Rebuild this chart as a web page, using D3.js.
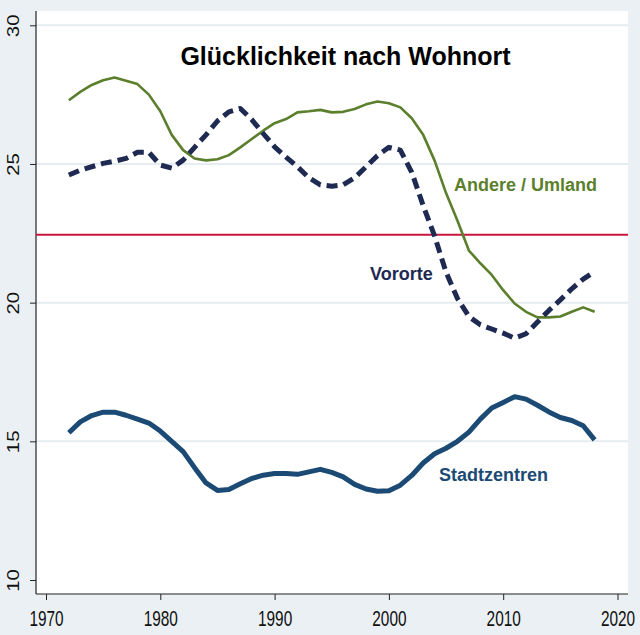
<!DOCTYPE html>
<html>
<head>
<meta charset="utf-8">
<script src="https://cdn.jsdelivr.net/npm/d3@7/dist/d3.min.js"></script>
<style>
  html, body { margin: 0; padding: 0; background: #eaf0f3; }
  svg { display: block; }
</style>
</head>
<body>
<svg id="chart" width="640" height="635"></svg>
<script>
const years = d3.range(1972, 2019);
const andereUmland = [27.3, 27.6, 27.85, 28.02, 28.12, 28.0, 27.88, 27.5, 26.9, 26.05,
  25.5, 25.2, 25.13, 25.17, 25.32, 25.6, 25.9, 26.2, 26.47, 26.62,
  26.86, 26.9, 26.95, 26.86, 26.88, 26.98, 27.15, 27.25, 27.19, 27.04,
  26.65, 26.05, 25.12, 23.95, 22.95, 21.88, 21.42, 21.0, 20.45, 19.97,
  19.67, 19.47, 19.47, 19.5, 19.67, 19.83, 19.67];
const vororte = [24.6, 24.78, 24.9, 25.02, 25.1, 25.2, 25.42, 25.42, 24.96, 24.85,
  25.14, 25.6, 26.05, 26.55, 26.88, 27.0, 26.6, 26.1, 25.62, 25.25,
  24.9, 24.5, 24.25, 24.2, 24.25, 24.5, 24.9, 25.3, 25.6, 25.5,
  24.7, 23.5, 22.4, 21.1, 20.15, 19.5, 19.2, 19.05, 18.9, 18.72,
  18.88, 19.3, 19.72, 20.1, 20.5, 20.85, 21.12];
const stadtzentren = [15.31, 15.7, 15.93, 16.05, 16.05, 15.94, 15.8, 15.66, 15.37, 15.0,
  14.63, 14.05, 13.5, 13.23, 13.26, 13.47, 13.66, 13.78, 13.84, 13.84,
  13.81, 13.9, 13.99, 13.88, 13.72, 13.45, 13.28, 13.2, 13.22, 13.42,
  13.77, 14.22, 14.55, 14.75, 15.0, 15.33, 15.8, 16.2, 16.4, 16.61,
  16.52, 16.3, 16.06, 15.86, 15.75, 15.56, 15.05];
const referenceValue = 22.45;
const xTicks = [1970, 1980, 1990, 2000, 2010, 2020];
const yTicks = [10, 15, 20, 25, 30];
const gridValues = [15, 20, 25, 30];
const title = "Glücklichkeit nach Wohnort";
const seriesLabels = ["Andere / Umland", "Vororte", "Stadtzentren"];

const svg = d3.select("#chart");
const plot = { left: 36, right: 628, top: 11, bottom: 594 };

const x = d3.scaleLinear().domain([1970, 2020]).range([46, 617.5]);
const y = d3.scaleLinear().domain([10, 30]).range([580, 25.3]);

// background
svg.append("rect").attr("width", 640).attr("height", 635).attr("fill", "#eaf0f3");
svg.append("rect")
  .attr("x", plot.left).attr("y", plot.top)
  .attr("width", plot.right - plot.left).attr("height", plot.bottom - plot.top)
  .attr("fill", "#ffffff");

// gridlines
svg.append("g").selectAll("line").data(gridValues).join("line")
  .attr("x1", plot.left).attr("x2", plot.right)
  .attr("y1", d => y(d)).attr("y2", d => y(d))
  .attr("stroke", "#e6edf1").attr("stroke-width", 2);

// axes
const yAxis = d3.axisLeft(y).tickValues(yTicks).tickSize(6).tickPadding(10).tickFormat(d3.format("d"));
const gy = svg.append("g").attr("transform", `translate(${plot.left},0)`).call(yAxis);
gy.select(".domain").attr("d", `M0,${plot.top}V${plot.bottom}`).attr("stroke", "#222").attr("stroke-width", 1.2);
gy.selectAll(".tick line").attr("stroke", "#222");
gy.selectAll(".tick text")
  .attr("transform", "rotate(-90) scale(1.2,1)")
  .attr("x", 0).attr("y", -17)
  .attr("dy", "0")
  .attr("text-anchor", "middle")
  .attr("fill", "#111")
  .style("font-family", "'Liberation Sans', Arial, sans-serif")
  .style("font-size", "17px");

const xAxis = d3.axisBottom(x).tickValues(xTicks).tickSize(6).tickPadding(8).tickFormat(d3.format("d"));
const gx = svg.append("g").attr("transform", `translate(0,${plot.bottom})`).call(xAxis);
gx.select(".domain").attr("d", `M${plot.left},0H${plot.right}`).attr("stroke", "#222").attr("stroke-width", 1.2);
gx.selectAll(".tick line").attr("stroke", "#222");
gx.selectAll(".tick text")
  .attr("transform", "scale(0.7,1)")
  .attr("y", 32).attr("dy", "0")
  .attr("x", 0)
  .attr("text-anchor", "middle")
  .attr("fill", "#111")
  .style("font-family", "'Liberation Sans', Arial, sans-serif")
  .style("font-size", "22px");

// reference line
svg.append("line")
  .attr("x1", plot.left).attr("x2", plot.right)
  .attr("y1", y(referenceValue)).attr("y2", y(referenceValue))
  .attr("stroke", "#c8163e").attr("stroke-width", 2);

const line = d3.line().x((d, i) => x(years[i])).y(d => y(d));

svg.append("path").datum(andereUmland)
  .attr("d", line).attr("fill", "none")
  .attr("stroke", "#5b7f2d").attr("stroke-width", 2.6)
  .attr("stroke-linejoin", "round");

svg.append("path").datum(vororte)
  .attr("d", line).attr("fill", "none")
  .attr("stroke", "#1e2a52").attr("stroke-width", 5)
  .attr("stroke-dasharray", "11,6")
  .attr("stroke-linejoin", "round");

svg.append("path").datum(stadtzentren)
  .attr("d", line).attr("fill", "none")
  .attr("stroke", "#1b4a74").attr("stroke-width", 5)
  .attr("stroke-linejoin", "round");

// title
svg.append("text")
  .attr("x", 345.5).attr("y", 65)
  .attr("text-anchor", "middle")
  .attr("fill", "#000")
  .style("font-family", "'Liberation Sans', Arial, sans-serif")
  .style("font-weight", "bold")
  .style("font-size", "25px")
  .text(title);

// series labels
const labelStyle = sel => sel
  .style("font-family", "'Liberation Sans', Arial, sans-serif")
  .style("font-weight", "bold")
  .style("font-size", "18px");

svg.append("text").attr("x", 454).attr("y", 191).attr("fill", "#5b7f2d")
  .call(labelStyle).text(seriesLabels[0]);
svg.append("text").attr("x", 370).attr("y", 280).attr("fill", "#1e2a52")
  .call(labelStyle).text(seriesLabels[1]);
svg.append("text").attr("x", 439).attr("y", 481).attr("fill", "#1b4a74")
  .call(labelStyle).text(seriesLabels[2]);
</script>
</body>
</html>
